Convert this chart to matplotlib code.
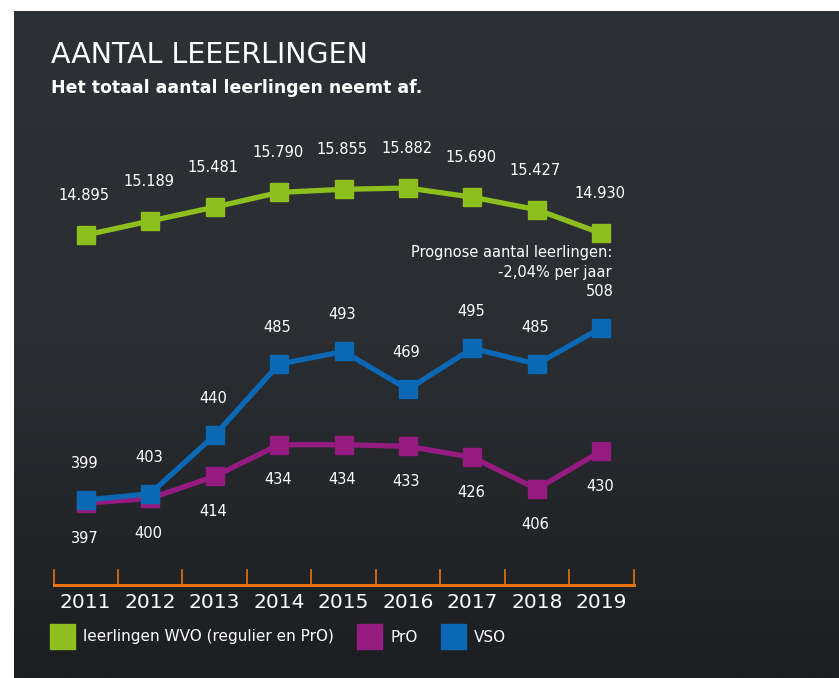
import matplotlib
matplotlib.use("Agg")
import numpy as np
import matplotlib.pyplot as plt
from matplotlib.colors import LinearSegmentedColormap
from matplotlib.patches import Rectangle

# data
years = ["2011", "2012", "2013", "2014", "2015", "2016", "2017", "2018", "2019"]
wvo = [14895, 15189, 15481, 15790, 15855, 15882, 15690, 15427, 14930]
pro = [397, 400, 414, 434, 434, 433, 426, 406, 430]
vso = [399, 403, 440, 485, 493, 469, 495, 485, 508]

GREEN = "#8dbf1e"
PURPLE = "#951b81"
BLUE = "#0a68b4"
ORANGE = "#e8730f"

W, H = 839, 678
fig = plt.figure(figsize=(W / 100, H / 100), dpi=100)
fig.patch.set_facecolor("white")

# chalkboard panel, a little darker towards the bottom
bg = fig.add_axes([14 / W, 0, 1 - 14 / W, 1 - 11 / H], zorder=0)
board = LinearSegmentedColormap.from_list("board", ["#2d3034", "#2a2d31", "#1c1e21"])
bg.imshow(np.linspace(0, 1, 256).reshape(-1, 1), cmap=board, aspect="auto",
          extent=[0, 1, 0, 1], origin="upper")
bg.axis("off")


def fmt(v):
    return f"{v:,}".replace(",", ".")


def px(x, y):
    return x / W, 1 - y / H


x = list(range(len(years)))
ax_rect = [53.5 / W, (H - 585) / H, 580 / W, 455 / H]

ax = fig.add_axes(ax_rect, zorder=2)
ax.set_xlim(-0.5, 8.5)
ax.set_ylim(345.2, 633.2)
ax.axis("off")

ax2 = fig.add_axes(ax_rect, zorder=3)
ax2.set_xlim(-0.5, 8.5)
ax2.set_ylim(7542, 17101)
ax2.axis("off")

lw = 3.8
ms = 13
ax.plot(x, pro, color=PURPLE, lw=lw, marker="s", ms=ms, zorder=3)
ax.plot(x, vso, color=BLUE, lw=lw, marker="s", ms=ms, zorder=4)
ax2.plot(x, wvo, color=GREEN, lw=lw, marker="s", ms=ms, zorder=3)

lbl = dict(color="white", fontsize=10.5, ha="center", family="DejaVu Sans")
for i in x:
    ax2.annotate(fmt(wvo[i]), (i, wvo[i]), xytext=(-1, 23),
                 textcoords="offset points", va="bottom", **lbl)
    ax.annotate(str(vso[i]), (i, vso[i]), xytext=(-1, 21),
                textcoords="offset points", va="bottom", **lbl)
    ax.annotate(str(pro[i]), (i, pro[i]), xytext=(-1, -20),
                textcoords="offset points", va="top", **lbl)

# axis line with chalky ticks
ax.plot([-0.5, 8.5], [345.2, 345.2], color=ORANGE, lw=2.2, clip_on=False)
for t in [i - 0.5 for i in range(len(years) + 1)]:
    ax.plot([t, t], [345.2, 355.0], color=ORANGE, lw=1.2, clip_on=False)

cond = ["Liberation Sans Narrow", "DejaVu Sans"]
for i, y in enumerate(years):
    xf = (53.5 + (i + 0.5) * 580 / 9) / W
    fig.text(xf, 1 - 603 / H, y, color="white", fontsize=14.5, ha="center",
             va="center", family=cond)

fig.text(*px(612, 253), "Prognose aantal leerlingen:", color="white",
         fontsize=10.5, ha="right", va="center")
fig.text(*px(612, 272), "-2,04% per jaar", color="white",
         fontsize=10.5, ha="right", va="center")

fig.text(*px(51, 55), "AANTAL LEEERLINGEN", color="white", fontsize=20.5,
         ha="left", va="center", family="DejaVu Sans")
fig.text(*px(51, 88), "Het totaal aantal leerlingen neemt af.", color="white",
         fontsize=12.5, ha="left", va="center", fontweight="bold")

# legend
legend = [("leerlingen WVO (regulier en PrO)", GREEN, 50),
          ("PrO", PURPLE, 357),
          ("VSO", BLUE, 441)]
for text, col, lx in legend:
    fig.patches.append(Rectangle((lx / W, 1 - 649 / H), 25 / W, 25 / H,
                                 transform=fig.transFigure, color=col, zorder=5))
    fig.text((lx + 33) / W, 1 - 637 / H, text, color="white", fontsize=11,
             ha="left", va="center", family=cond, zorder=5)

fig.savefig("out.png", dpi=100, facecolor=fig.get_facecolor())
